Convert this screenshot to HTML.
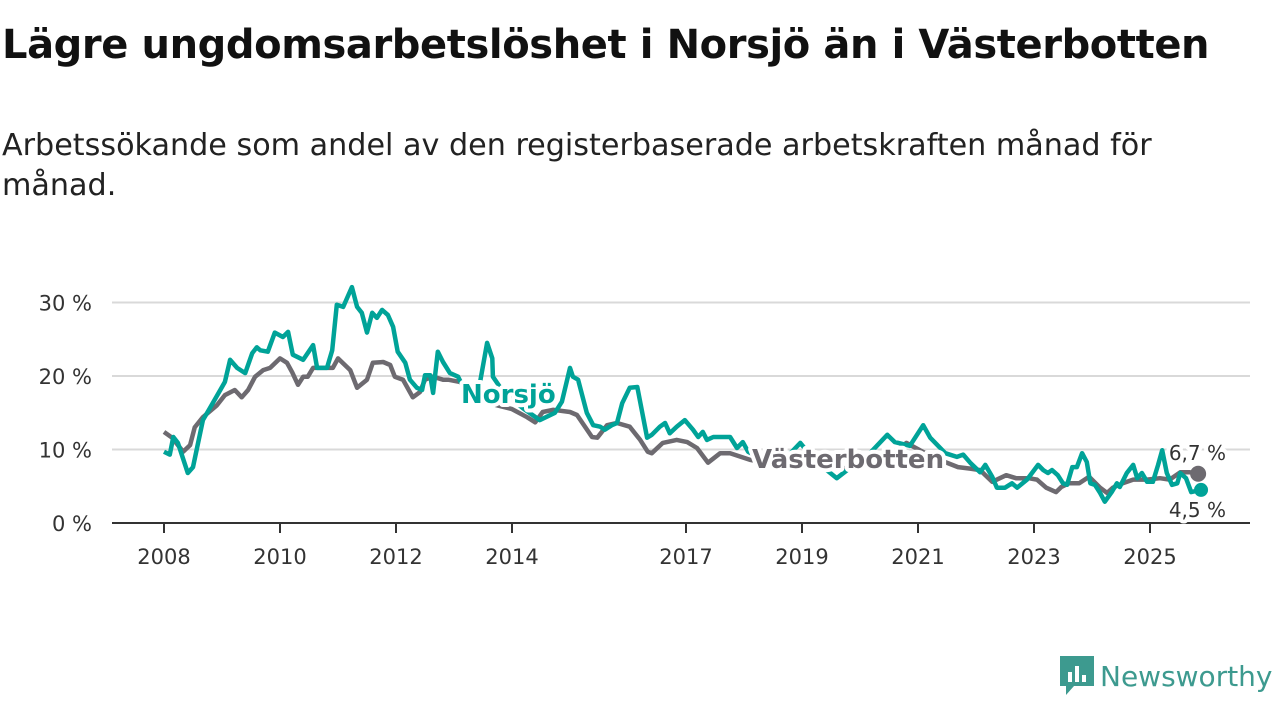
<!DOCTYPE html>
<html><head><meta charset="utf-8"><style>
body{margin:0;width:1280px;height:720px;background:#fff;font-family:"Liberation Sans","DejaVu Sans",sans-serif;overflow:hidden;position:relative}
h1{position:absolute;left:2px;top:22px;margin:0;font-size:40px;font-weight:bold;color:#111;font-family:"DejaVu Sans","Liberation Sans",sans-serif;letter-spacing:-0.4px}
.sub{position:absolute;left:2px;top:126px;margin:0;font-size:30.2px;line-height:40px;color:#222;width:1185px;font-family:"DejaVu Sans","Liberation Sans",sans-serif;letter-spacing:0}
svg{position:absolute;left:0;top:0}
</style></head><body>
<h1>Lägre ungdomsarbetslöshet i Norsjö än i Västerbotten</h1>
<p class="sub">Arbetssökande som andel av den registerbaserade arbetskraften månad för månad.</p>
<svg id="chart" width="1280" height="720"></svg>
<div style="position:absolute;left:1060px;top:656px;display:flex;align-items:center">
<svg width="34" height="40" viewBox="0 0 34 40" style="position:static"><path d="M0 0H34V30H14L6 39V30H0Z" fill="#3d9a8f"/><rect x="8" y="16" width="4" height="10" fill="#fff"/><rect x="15" y="10" width="4" height="16" fill="#fff"/><rect x="22" y="19" width="4" height="7" fill="#fff"/></svg>
<span style="margin-left:6px;font-size:28px;color:#3d9a8f;font-family:'DejaVu Sans',sans-serif">Newsworthy</span></div>
<script>
const yTicks=[0,10,20,30];
const xTickYears=[2008,2010,2012,2014,2017,2019,2021,2023,2025];
const norsjoT=[2008.0,2008.1,2008.16,2008.24,2008.41,2008.5,2008.67,2008.79,2009.0,2009.05,2009.14,2009.26,2009.4,2009.52,2009.6,2009.66,2009.79,2009.91,2010.05,2010.14,2010.22,2010.4,2010.57,2010.64,2010.81,2010.9,2010.98,2011.09,2011.24,2011.33,2011.41,2011.5,2011.59,2011.67,2011.76,2011.86,2011.95,2012.03,2012.16,2012.24,2012.36,2012.45,2012.5,2012.59,2012.64,2012.72,2012.81,2012.93,2013.07,2013.22,2013.4,2013.57,2013.66,2013.67,2013.88,2014.05,2014.19,2014.48,2014.74,2014.86,2015.0,2015.05,2015.14,2015.29,2015.4,2015.52,2015.6,2015.72,2015.81,2015.9,2016.03,2016.16,2016.33,2016.41,2016.55,2016.64,2016.72,2016.84,2016.98,2017.12,2017.21,2017.29,2017.36,2017.47,2017.76,2017.88,2017.98,2018.07,2018.36,2018.62,2018.97,2019.22,2019.6,2019.91,2020.17,2020.47,2020.6,2020.86,2021.09,2021.21,2021.47,2021.67,2021.78,2021.9,2022.07,2022.16,2022.28,2022.36,2022.5,2022.62,2022.71,2022.88,2023.07,2023.16,2023.24,2023.31,2023.41,2023.5,2023.57,2023.66,2023.74,2023.83,2023.91,2023.97,2024.05,2024.14,2024.22,2024.34,2024.43,2024.48,2024.6,2024.71,2024.78,2024.86,2024.95,2025.05,2025.14,2025.21,2025.29,2025.38,2025.47,2025.52,2025.62,2025.71,2025.88];
const norsjoV=[9.7,9.3,11.7,10.9,6.8,7.6,14,15.6,18.5,19.2,22.2,21.1,20.4,23.1,23.9,23.5,23.3,25.9,25.3,26,22.9,22.2,24.2,21.1,21.1,23.5,29.7,29.4,32.1,29.4,28.6,25.9,28.6,27.9,29,28.3,26.7,23.3,21.8,19.5,18.4,18.1,20.1,20.1,17.7,23.3,21.9,20.4,19.9,17.5,17,24.5,22.4,19.9,17.5,16.5,15.6,14,15,16.5,21.1,19.9,19.5,15,13.3,13.1,12.7,13.3,13.6,16.3,18.4,18.5,11.6,12,13.1,13.6,12.2,13.1,14,12.7,11.7,12.4,11.3,11.7,11.7,10.2,11,9.7,8.5,8,10.9,8.5,6.1,8,9.5,12,11,10.5,13.3,11.6,9.5,9,9.3,8.2,6.9,7.9,6.3,4.8,4.8,5.4,4.8,5.9,7.9,7.2,6.8,7.2,6.5,5.4,5.2,7.6,7.6,9.5,8.3,5.4,5.2,4.1,2.9,4.2,5.4,4.9,6.8,7.9,6.1,6.8,5.6,5.6,7.9,9.9,6.8,5.2,5.4,6.8,6.1,4.2,4.5];
const vbT=[2008.0,2008.14,2008.33,2008.45,2008.53,2008.67,2008.91,2009.05,2009.22,2009.34,2009.45,2009.57,2009.71,2009.83,2010.0,2010.12,2010.21,2010.31,2010.4,2010.48,2010.57,2010.74,2010.91,2011.0,2011.21,2011.33,2011.5,2011.6,2011.78,2011.9,2011.98,2012.12,2012.29,2012.41,2012.5,2012.64,2012.81,2012.9,2013.1,2013.3,2013.5,2013.75,2014.0,2014.26,2014.4,2014.53,2014.71,2015.0,2015.12,2015.38,2015.47,2015.64,2015.81,2016.03,2016.21,2016.34,2016.41,2016.6,2016.84,2017.02,2017.19,2017.38,2017.59,2017.76,2018.1,2018.5,2019.0,2019.4,2019.8,2020.2,2020.5,2020.8,2021.1,2021.4,2021.69,2021.9,2022.07,2022.28,2022.52,2022.69,2022.91,2023.05,2023.21,2023.38,2023.47,2023.6,2023.78,2023.95,2024.14,2024.26,2024.36,2024.53,2024.71,2024.95,2025.17,2025.34,2025.52,2025.69,2025.83];
const vbV=[12.4,11.6,9.7,10.6,13,14.4,16,17.4,18.1,17.1,18.1,19.9,20.8,21.1,22.4,21.8,20.5,18.8,19.9,19.9,21.1,21.1,21.1,22.4,20.8,18.4,19.5,21.8,21.9,21.5,19.9,19.5,17.1,17.8,19.5,19.9,19.5,19.5,19.2,17.5,16.5,16,15.5,14.4,13.7,15.1,15.4,15.1,14.7,11.7,11.6,13.3,13.6,13.1,11.3,9.7,9.5,10.9,11.3,11,10.2,8.2,9.5,9.5,8.6,8,7.6,7.8,7.4,8,9,10.9,9.6,8.5,7.6,7.4,7.2,5.6,6.5,6.1,6.1,5.9,4.8,4.2,4.9,5.4,5.4,6.3,4.8,4.1,4.8,5.4,5.9,5.9,6.1,5.9,6.9,6.9,6.7];
const NS='http://www.w3.org/2000/svg';
const svg=document.getElementById('chart');
const X0=112,X1=1250;
const xS=t=>164+(t-2008)*58;
const yS=v=>523-v*7.35;
function mk(tag,attrs,parent){const e=document.createElementNS(NS,tag);for(const k in attrs)e.setAttribute(k,attrs[k]);(parent||svg).appendChild(e);return e;}
yTicks.forEach(v=>{
  if(v>0){const g=mk('line',{x1:X0,x2:X1,y1:yS(v),y2:yS(v),stroke:'#d9d9d9','stroke-width':2});
  
  }
  const t=mk('text',{x:92,y:yS(v)+8,'text-anchor':'end','font-size':21,fill:'#333','font-family':'DejaVu Sans, sans-serif'});
  t.textContent=v+' %';
  
  
});
xTickYears.forEach(y=>{
  const l=mk('line',{x1:xS(y),x2:xS(y),y1:523,y2:533,stroke:'#333','stroke-width':2});
  
  
  const t=mk('text',{x:xS(y),y:564,'text-anchor':'middle','font-size':21,fill:'#333','font-family':'DejaVu Sans, sans-serif'});
  t.textContent=y;
  
  
});
function line(T,V,color,name){
  const d=T.map((t,i)=>(i?'L':'M')+xS(t).toFixed(1)+' '+yS(V[i]).toFixed(1)).join(' ');
  const p=mk('path',{d:d,fill:'none',stroke:color,'stroke-width':4.5,'stroke-linejoin':'round'});
  
  
}
line(vbT,vbV,'#6d6a70','vasterbotten-line');
line(norsjoT,norsjoV,'#00a398','norsjo-line');
const ax=mk('line',{x1:X0,x2:X1,y1:523,y2:523,stroke:'#333','stroke-width':2});


const d1=mk('circle',{cx:xS(vbT[vbT.length-1]),cy:yS(vbV[vbV.length-1]),r:8,fill:'#6d6a70'});


const d2=mk('circle',{cx:xS(norsjoT[norsjoT.length-1]),cy:yS(norsjoV[norsjoV.length-1]),r:7,fill:'#00a398'});


function label(txt,x,y,color,bold,name,size,anchor){
  const t=mk('text',{x:x,y:y,'font-size':size,'font-weight':bold?'bold':'normal',fill:color,stroke:'#fff','stroke-width':8,'stroke-linejoin':'round','paint-order':'stroke','font-family':'DejaVu Sans, sans-serif','text-anchor':anchor||'start'});
  t.textContent=txt;
  
  
}
label('Norsjö',461,403,'#00a398',true,'norsjo-label',26);
label('Västerbotten',752,468,'#6d6a70',true,'vasterbotten-label',26);
label('6,7 %',1226,460,'#333',false,'vasterbotten-end-value',20,'end');
label('4,5 %',1226,517,'#333',false,'norsjo-end-value',20,'end');
</script>
</body></html>
